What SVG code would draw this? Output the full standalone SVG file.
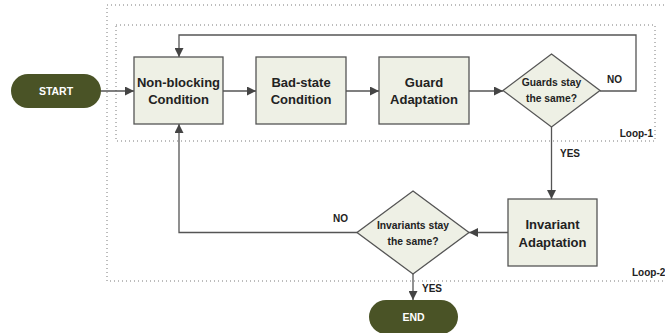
<svg xmlns="http://www.w3.org/2000/svg" width="665" height="333" viewBox="0 0 665 333">
<defs>
<style>
.box{fill:#eef0e5;stroke:#555;stroke-width:1.3}
.term{fill:#4a5326}
.t{font-family:"Liberation Sans",Arial,sans-serif;font-weight:bold;fill:#222;text-anchor:middle}
.big{font-size:13px}
.sm{font-size:10.3px}
.lbl{font-family:"Liberation Sans",Arial,sans-serif;font-weight:bold;fill:#222;font-size:10px}
.tw{font-family:"Liberation Sans",Arial,sans-serif;font-weight:bold;fill:#fff;font-size:10.5px;text-anchor:middle}
.dot{fill:none;stroke:#7a7a7a;stroke-width:1;stroke-dasharray:1 3}
.c{fill:none;stroke:#555;stroke-width:1.3}
</style>
<marker id="ah" viewBox="0 0 10 10" refX="10" refY="5" markerWidth="9" markerHeight="9" markerUnits="userSpaceOnUse" orient="auto">
<path d="M0,0 L10,5 L0,10 z" fill="#444"/>
</marker>
</defs>
<rect width="665" height="333" fill="#fff"/>
<g id="loops">
<rect class="dot" x="107" y="5" width="580" height="276"/>
<rect class="dot" x="116" y="25" width="539" height="116"/>
<text class="lbl" x="653" y="137" text-anchor="end">Loop-1</text>
<text class="lbl" x="632" y="276">Loop-2</text>
</g>
<g id="connectors">
<line class="c" x1="101" y1="91" x2="134" y2="91" marker-end="url(#ah)"/>
<line class="c" x1="223" y1="91" x2="256" y2="91" marker-end="url(#ah)"/>
<line class="c" x1="346" y1="91" x2="379" y2="91" marker-end="url(#ah)"/>
<line class="c" x1="469" y1="91" x2="503" y2="91" marker-end="url(#ah)"/>
<polyline class="c" points="600,91 636,91 636,35 179,35 179,57" marker-end="url(#ah)"/>
<line class="c" x1="551.5" y1="127" x2="551.5" y2="199" marker-end="url(#ah)"/>
<line class="c" x1="508" y1="232.5" x2="469" y2="232.5" marker-end="url(#ah)"/>
<polyline class="c" points="357,232.5 179,232.5 179,124" marker-end="url(#ah)"/>
<line class="c" x1="413" y1="274" x2="413" y2="300" marker-end="url(#ah)"/>
<text class="lbl" x="607" y="83">NO</text>
<text class="lbl" x="560" y="157">YES</text>
<text class="lbl" x="333" y="222">NO</text>
<text class="lbl" x="422" y="292">YES</text>
</g>
<g id="start">
<rect class="term" x="11" y="74" width="90" height="34" rx="17"/>
<text class="tw" x="56" y="95">START</text>
</g>
<g id="nonblocking">
<rect class="box" x="134" y="57" width="89" height="67"/>
<text class="t big" x="178.5" y="87">Non-blocking</text>
<text class="t big" x="178.5" y="104">Condition</text>
</g>
<g id="badstate">
<rect class="box" x="256" y="57" width="90" height="67"/>
<text class="t big" x="301" y="87">Bad-state</text>
<text class="t big" x="301" y="104">Condition</text>
</g>
<g id="guard">
<rect class="box" x="379" y="57" width="90" height="67"/>
<text class="t big" x="424" y="87">Guard</text>
<text class="t big" x="424" y="104">Adaptation</text>
</g>
<g id="guards-same">
<polygon class="box" points="551.5,54 600,90.5 551.5,127 503,90.5"/>
<text class="t sm" x="551.5" y="86">Guards stay</text>
<text class="t sm" x="551.5" y="102">the same?</text>
</g>
<g id="invariant">
<rect class="box" x="508" y="199" width="89" height="67"/>
<text class="t big" x="552.5" y="229">Invariant</text>
<text class="t big" x="552.5" y="247">Adaptation</text>
</g>
<g id="invariants-same">
<polygon class="box" points="413,191 469,232.5 413,274 357,232.5"/>
<text class="t sm" x="413" y="229">Invariants stay</text>
<text class="t sm" x="413" y="245">the same?</text>
</g>
<g id="end">
<rect class="term" x="369" y="300" width="89" height="34" rx="17"/>
<text class="tw" x="413.5" y="321">END</text>
</g>
</svg>
